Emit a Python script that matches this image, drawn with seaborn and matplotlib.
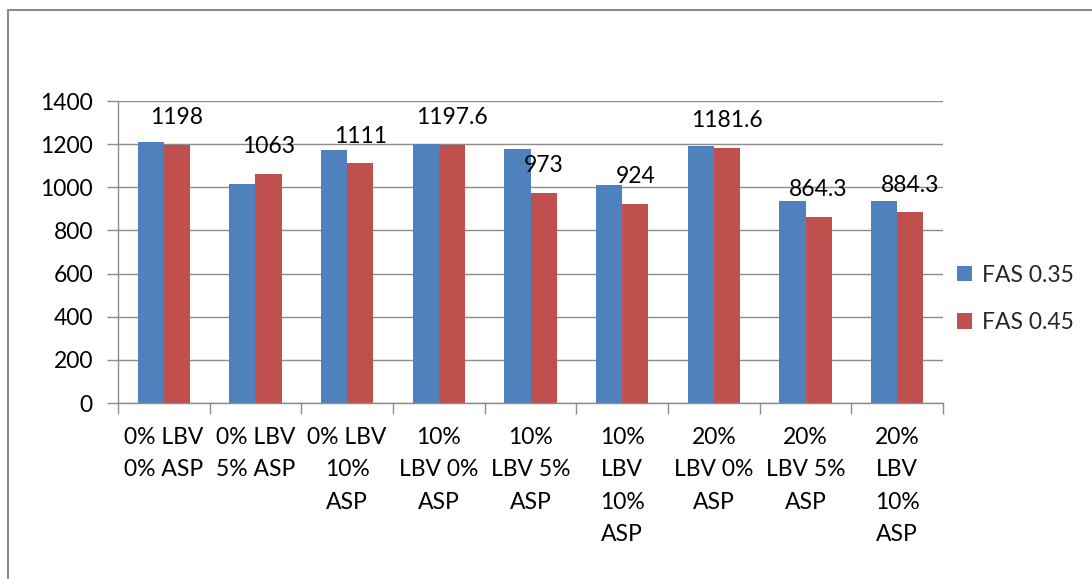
import matplotlib
matplotlib.use("Agg")
import matplotlib.pyplot as plt
from matplotlib.patches import Rectangle
from matplotlib.ticker import FixedLocator
import seaborn as sns
import pandas as pd

# Mix designs (LBV / ASP replacement levels)
categories = [
    "0% LBV 0% ASP", "0% LBV 5% ASP", "0% LBV 10% ASP",
    "10% LBV 0% ASP", "10% LBV 5% ASP", "10% LBV 10% ASP",
    "20% LBV 0% ASP", "20% LBV 5% ASP", "20% LBV 10% ASP",
]
tick_labels = [
    "0% LBV\n0% ASP", "0% LBV\n5% ASP", "0% LBV\n10%\nASP",
    "10%\nLBV 0%\nASP", "10%\nLBV 5%\nASP", "10%\nLBV\n10%\nASP",
    "20%\nLBV 0%\nASP", "20%\nLBV 5%\nASP", "20%\nLBV\n10%\nASP",
]
series_names = ["FAS 0.35", "FAS 0.45"]
fas_035 = [1208, 1015, 1173, 1202, 1179, 1009, 1193, 936, 936]
fas_045 = [1198, 1063, 1111, 1197.6, 973, 924, 1181.6, 864.3, 884.3]
y_ticks = [0, 200, 400, 600, 800, 1000, 1200, 1400]

colors = ["#4F81BD", "#C0504D"]
grid_grey = "#8C8C8C"
font_size = 16.5

df = pd.DataFrame({
    "mix": categories * 2,
    "series": [series_names[0]] * len(categories) + [series_names[1]] * len(categories),
    "value": fas_035 + fas_045,
})

sns.set_theme(style="white")
plt.rcParams["font.family"] = ["Lato", "DejaVu Sans"]

fig = plt.figure(figsize=(10.92, 5.79), dpi=100)
ax = fig.add_axes([118 / 1092, 1 - 403 / 579, (943 - 118) / 1092, (403 - 101) / 579])

sns.barplot(data=df, x="mix", y="value", hue="series", order=categories,
            hue_order=series_names, palette=colors, width=0.57, gap=0,
            saturation=1, ax=ax, legend=True, linewidth=0)

ax.set_ylim(0, 1400)
ax.set_xlim(-0.5, len(categories) - 0.5)
ax.set_yticks(y_ticks)
ax.set_yticklabels([str(v) for v in y_ticks])
ax.set_xticks(range(len(categories)))
ax.set_xticklabels(tick_labels, linespacing=1.68, va="top")
ax.xaxis.set_minor_locator(FixedLocator([i - 0.5 for i in range(len(categories) + 1)]))
ax.tick_params(axis="x", which="major", length=0, pad=17, labelsize=font_size, colors="black")
ax.tick_params(axis="x", which="minor", length=8, width=1, color=grid_grey, direction="out", bottom=True)
ax.tick_params(axis="y", length=8, width=1, color=grid_grey, direction="out", left=True,
               labelsize=font_size, pad=10, labelcolor="black")
ax.set_xlabel("")
ax.set_ylabel("")

ax.yaxis.grid(True, color=grid_grey, linewidth=1)
ax.set_axisbelow(True)
for side in ["top", "right"]:
    ax.spines[side].set_visible(False)
for side in ["left", "bottom"]:
    ax.spines[side].set_visible(True)
    ax.spines[side].set_color(grid_grey)
    ax.spines[side].set_linewidth(1)

# Value labels above the FAS 0.45 bars
ax.bar_label(ax.containers[1], labels=[f"{v:g}" for v in fas_045],
             padding=12, fontsize=font_size, color="black")

leg = ax.legend(loc="center left", bbox_to_anchor=(957 / 1092, 1 - 299 / 579),
                bbox_transform=fig.transFigure, frameon=False, fontsize=font_size,
                handlelength=0.65, handleheight=0.65, handletextpad=0.45,
                labelspacing=1.15, borderaxespad=0, borderpad=0)

# Chart-area border
fig.patches.append(Rectangle((8 / 1092, -0.1), 1.2, 1 - 10 / 579 + 0.1,
                             transform=fig.transFigure, fill=False,
                             edgecolor="#8C8C8C", linewidth=1.5))

fig.savefig("out.png", dpi=100)
